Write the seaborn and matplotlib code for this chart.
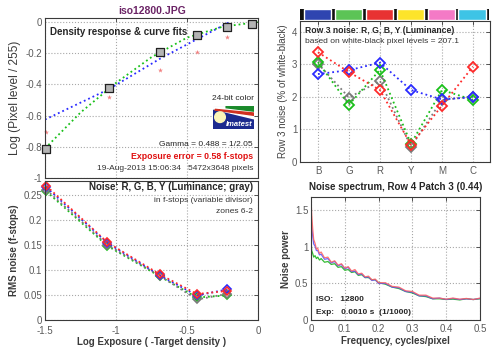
import matplotlib
matplotlib.use('Agg')
import matplotlib.pyplot as plt
import matplotlib.patches as mpatches
import seaborn as sns
import numpy as np
import pandas as pd

# ---- data ----
# density response (top left)
zone_x = [-1.49, -1.05, -0.69, -0.43, -0.22, -0.04]
density_y = [-0.815, -0.425, -0.195, -0.08, -0.035, -0.01]
pink_x = [-1.49, -1.05, -0.69, -0.43, -0.22]
pink_y = [-0.705, -0.48, -0.31, -0.19, -0.095]
gamma_fit_x = [-1.5, -1.05, -0.69, -0.43, -0.2]
gamma_fit_y = [-0.625, -0.43, -0.235, -0.11, 0.0]
poly_fit_x = [-1.5, -1.25, -1.0, -0.75, -0.5, -0.25, 0.0]
poly_fit_y = [-0.81, -0.58, -0.39, -0.225, -0.1, -0.03, 0.0]

# rms noise in f-stops (bottom left), zones 6-2
noise_x = [-1.49, -1.06, -0.69, -0.43, -0.22]
noise_green = [0.257, 0.148, 0.087, 0.045, 0.049]
noise_gray = [0.260, 0.150, 0.088, 0.041, 0.052]
noise_blue = [0.265, 0.154, 0.089, 0.049, 0.061]
noise_red = [0.268, 0.155, 0.091, 0.052, 0.058]

# row 3 noise (top right)
cats = ['B', 'G', 'R', 'Y', 'M', 'C']
bar_colors = ['#2f45b0', '#5cc456', '#e83232', '#fde42a', '#f47ac6', '#3ec4e6']
row3_gray = [3.02, 1.98, 2.49, 0.47, 1.90, 2.01]
row3_green = [3.07, 1.76, 2.83, 0.56, 2.21, 1.91]
row3_blue = [2.70, 2.82, 3.05, 2.21, 1.92, 1.99]
row3_red = [3.37, 2.76, 2.21, 0.53, 1.73, 2.93]

# noise spectrum (bottom right)
freq = [0.0, 0.002, 0.005, 0.008, 0.012, 0.016, 0.02, 0.025, 0.03, 0.04,
        0.05, 0.06, 0.07, 0.08, 0.09, 0.1, 0.11, 0.12, 0.13, 0.14,
        0.15, 0.16, 0.17, 0.18, 0.19, 0.2, 0.22, 0.24, 0.26, 0.28,
        0.3, 0.32, 0.34, 0.36, 0.38, 0.4, 0.42, 0.44, 0.46, 0.48, 0.5]
spec_green = [1.08, 0.95, 0.91, 0.86, 0.88, 0.84, 0.86, 0.82, 0.84, 0.79,
              0.80, 0.76, 0.77, 0.72, 0.73, 0.68, 0.69, 0.65, 0.66, 0.61,
              0.62, 0.58, 0.58, 0.55, 0.55, 0.51, 0.49, 0.45, 0.43, 0.39,
              0.37, 0.33, 0.32, 0.29, 0.29, 0.28, 0.285, 0.275, 0.29, 0.28, 0.29]
spec_blue = [1.45, 1.28, 1.15, 1.04, 1.01, 0.95, 0.95, 0.89, 0.90, 0.83,
             0.84, 0.78, 0.80, 0.74, 0.76, 0.70, 0.72, 0.66, 0.67, 0.62,
             0.63, 0.58, 0.59, 0.54, 0.55, 0.50, 0.50, 0.45, 0.44, 0.39,
             0.38, 0.33, 0.33, 0.29, 0.30, 0.28, 0.295, 0.28, 0.29, 0.28, 0.295]
spec_red = [1.68, 1.45, 1.25, 1.10, 1.05, 0.97, 0.98, 0.91, 0.93, 0.85,
            0.86, 0.79, 0.81, 0.75, 0.77, 0.71, 0.73, 0.67, 0.69, 0.63,
            0.64, 0.59, 0.60, 0.55, 0.56, 0.51, 0.51, 0.46, 0.45, 0.40,
            0.39, 0.34, 0.34, 0.30, 0.30, 0.285, 0.30, 0.285, 0.295, 0.28, 0.30]

C_RED, C_GREEN, C_BLUE, C_GRAY = '#ff2a2a', '#19c019', '#2a2aff', '#7a7a7a'

sns.set_style('white')
plt.rcParams['font.family'] = ['Liberation Sans', 'DejaVu Sans']
plt.rcParams['axes.edgecolor'] = '#3a3a3a'
plt.rcParams['axes.linewidth'] = 0.8

fig = plt.figure(figsize=(5, 3.52), dpi=100)


def style_axes(ax):
    ax.tick_params(direction='in', top=True, right=True, length=3, width=0.6,
                   labelsize=7, labelcolor='#5a5a5a', color='#3a3a3a', pad=2)
    ax.tick_params(axis='x', pad=3)
    ax.grid(True, linestyle=':', color='#a8a8a8', linewidth=0.8)
    for s in ax.spines.values():
        s.set_visible(True)


# ---------------- top left: density response ----------------
ax1 = fig.add_axes([0.09, 0.494, 0.426, 0.4545])
sns.lineplot(x=gamma_fit_x, y=gamma_fit_y, ax=ax1, color=C_BLUE, linestyle=':', lw=1.3)
sns.lineplot(x=poly_fit_x, y=poly_fit_y, ax=ax1, color=C_GREEN, linestyle=':', lw=1.3)
sns.scatterplot(x=pink_x, y=pink_y, ax=ax1, marker='*', color='#f28080', s=14,
                linewidth=0, clip_on=False)
sns.scatterplot(x=zone_x, y=density_y, ax=ax1, marker='s', color='#b4b4b4',
                edgecolor='#202020', linewidth=0.9, s=34, clip_on=False, zorder=5)
ax1.set_xlim(-1.5, 0)
ax1.set_ylim(-1, 0.025)
ax1.set_xticks([-1.5, -1, -0.5, 0])
ax1.set_xticklabels([])
ax1.set_yticks([-1, -0.8, -0.6, -0.4, -0.2, 0])
ax1.set_yticklabels(['-1', '-0.8', '-0.6', '-0.4', '-0.2', '0'])
style_axes(ax1)
ax1.set_ylabel('Log (Pixel level / 255)', fontsize=8.6, color='#3a3a3a', labelpad=3)
ax1.set_xlabel('')
ax1.text(0.025, 0.912, 'Density response & curve fits', transform=ax1.transAxes,
         fontsize=7, fontweight='bold', va='center', ha='left')
ax1.text(0.883, 0.5, '24-bit color', transform=ax1.transAxes, fontsize=6, ha='center', va='center')
ax1.text(0.977, 0.2125, 'Gamma = 0.488 = 1/2.05', transform=ax1.transAxes, fontsize=6,
         ha='right', va='center', color='#222222')
ax1.text(0.977, 0.1375, 'Exposure error = 0.58 f-stops', transform=ax1.transAxes, fontsize=6.3,
         ha='right', va='center', color='#e01010', fontweight='bold')
ax1.text(0.977, 0.0625, '19-Aug-2013 15:06:34   5472x3648 pixels', transform=ax1.transAxes,
         fontsize=6, ha='right', va='center', color='#333333')

# Imatest logo
logo = ax1.inset_axes([0.789, 0.306, 0.192, 0.144])
logo.set_xlim(0, 1)
logo.set_ylim(0, 1)
logo.axis('off')
logo.add_patch(mpatches.Rectangle((0, 0), 1, 1, color='#1c2a8e'))
logo.add_patch(mpatches.Polygon([(0, 1), (1, 1), (1, 0.45), (0, 0.88)], color='white'))
logo.add_patch(mpatches.Polygon([(0.32, 1), (1, 1), (1, 0.78), (0.32, 0.93)], color='#1a8a2a'))
logo.add_patch(mpatches.Polygon([(0.05, 0.86), (1, 0.7), (1, 0.6), (0.05, 0.83)], color='#d03020'))
logo.add_patch(mpatches.Ellipse((0.17, 0.52), 0.26, 0.46, color='#fbf5b8'))
logo.text(0.63, 0.2, 'Imatest', color='white', fontsize=5.5, fontstyle='italic',
          fontweight='bold', ha='center', va='center')

fig.text(0.304, 0.969, 'iso12800.JPG', fontsize=7.5, fontweight='bold', color='#6b2466',
         ha='center', va='center')

# ---------------- bottom left: RMS noise ----------------
ax2 = fig.add_axes([0.09, 0.0909, 0.426, 0.395])
for vals, col in [(noise_green, C_GREEN), (noise_gray, C_GRAY), (noise_blue, C_BLUE), (noise_red, C_RED)]:
    sns.lineplot(x=noise_x, y=vals, ax=ax2, color=col, linestyle=':', lw=1.3,
                 marker='D', markersize=4.2, markerfacecolor='none', markeredgecolor=col,
                 markeredgewidth=1.2, clip_on=False)
ax2.set_xlim(-1.5, 0)
ax2.set_ylim(0, 0.278)
ax2.set_xticks([-1.5, -1, -0.5, 0])
ax2.set_xticklabels(['-1.5', '-1', '-0.5', '0'])
ax2.set_yticks([0, 0.05, 0.1, 0.15, 0.2, 0.25])
ax2.set_yticklabels(['0', '0.05', '0.1', '0.15', '0.2', '0.25'])
style_axes(ax2)
ax2.tick_params(axis='x', pad=4)
ax2.set_xlabel('Log Exposure ( -Target density )', fontsize=7, fontweight='bold', color='#3a3a3a', labelpad=1)
ax2.set_ylabel('RMS noise (f-stops)', fontsize=7, fontweight='bold', color='#3a3a3a', labelpad=3)
ax2.text(0.977, 0.957, 'Noise: R, G, B, Y (Luminance; gray)', transform=ax2.transAxes,
         fontsize=7, fontweight='bold', ha='right', va='center')
ax2.text(0.977, 0.863, 'in f-stops (variable divisor)', transform=ax2.transAxes,
         fontsize=6, ha='right', va='center', color='#333333')
ax2.text(0.977, 0.777, 'zones 6-2', transform=ax2.transAxes,
         fontsize=6, ha='right', va='center', color='#333333')

# ---------------- top right: row 3 noise ----------------
pos = list(range(len(cats)))
axc = fig.add_axes([0.6, 0.943, 0.378, 0.03125])
sns.barplot(x=cats, y=[1] * len(cats), hue=cats, palette=bar_colors, legend=False,
            width=0.88, saturation=1, ax=axc)
axc.set_facecolor('#111111')
axc.set_xlim(-0.58, 5.55)
axc.set_ylim(0, 1)
axc.set_xticks([])
axc.set_yticks([])
axc.set_xlabel('')
axc.set_ylabel('')
for s in axc.spines.values():
    s.set_visible(False)

ax3 = fig.add_axes([0.6, 0.5398, 0.38, 0.4006])
for vals, col in [(row3_gray, C_GRAY), (row3_green, C_GREEN), (row3_blue, C_BLUE), (row3_red, C_RED)]:
    sns.lineplot(x=pos, y=vals, ax=ax3, color=col, linestyle=':', lw=1.3,
                 marker='D', markersize=5, markerfacecolor='none', markeredgecolor=col,
                 markeredgewidth=1.3)
ax3.set_xlim(-0.58, 5.55)
ax3.set_ylim(0, 4.33)
ax3.set_xticks(pos)
ax3.set_xticklabels(cats)
ax3.set_yticks([0, 1, 2, 3, 4])
ax3.set_yticklabels(['0', '1', '2', '3', '4'])
style_axes(ax3)
ax3.set_ylabel('Row 3 noise (% of white-black)', fontsize=7, color='#444444', labelpad=3)
ax3.text(0.026, 0.936, 'Row 3 noise: R, G, B, Y (Luminance)', transform=ax3.transAxes,
         fontsize=6.2, fontweight='bold', ha='left', va='center')
ax3.text(0.026, 0.851, 'based on white-black pixel levels = 207.1', transform=ax3.transAxes,
         fontsize=6, ha='left', va='center', color='#333333')

# ---------------- bottom right: noise spectrum ----------------
ax4 = fig.add_axes([0.622, 0.0909, 0.338, 0.349])
for vals, col in [(spec_green, '#10b010'), (spec_blue, '#5050ff'), (spec_red, '#ff6060')]:
    sns.lineplot(x=freq, y=vals, ax=ax4, color=col, lw=0.9, alpha=0.85)
ax4.set_xlim(0, 0.5)
ax4.set_ylim(0, 1.68)
ax4.set_xticks([0, 0.1, 0.2, 0.3, 0.4, 0.5])
ax4.set_xticklabels(['0', '0.1', '0.2', '0.3', '0.4', '0.5'])
ax4.set_yticks([0, 0.5, 1, 1.5])
ax4.set_yticklabels(['0', '0.5', '1', '1.5'])
style_axes(ax4)
ax4.set_title('Noise spectrum, Row 4 Patch 3 (0.44)', fontsize=7, fontweight='bold', pad=5)
ax4.set_xlabel('Frequency, cycles/pixel', fontsize=7, fontweight='bold', color='#3a3a3a', labelpad=1)
ax4.set_ylabel('Noise power', fontsize=7, fontweight='bold', color='#3a3a3a', labelpad=3)
ax4.text(0.03, 0.163, 'ISO:   12800', transform=ax4.transAxes, fontsize=6,
         fontweight='bold', ha='left', va='center')
ax4.text(0.03, 0.065, 'Exp:   0.0010 s  (1/1000)', transform=ax4.transAxes, fontsize=6,
         fontweight='bold', ha='left', va='center')

fig.savefig('out.png', dpi=100, facecolor='white')
